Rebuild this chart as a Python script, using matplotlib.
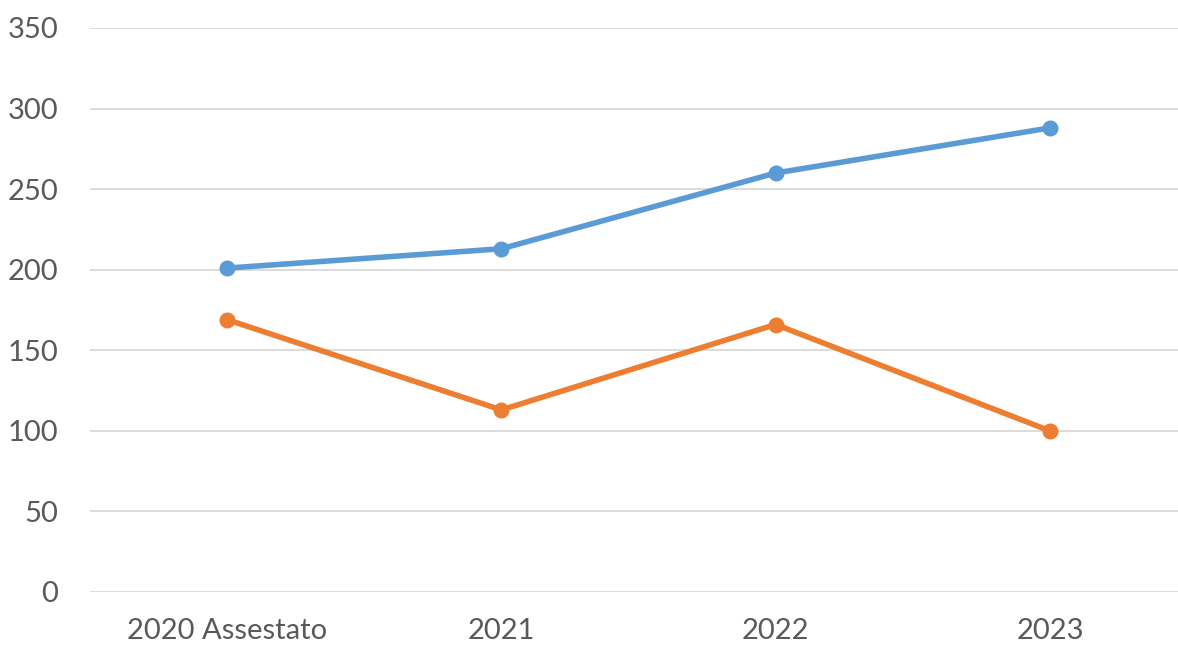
import matplotlib
matplotlib.use("Agg")
import matplotlib.pyplot as plt

categories = ["2020 Assestato", "2021", "2022", "2023"]
blue_values = [201, 213, 260, 288]
orange_values = [169, 113, 166, 100]
y_ticks = [0, 50, 100, 150, 200, 250, 300, 350]

plt.rcParams['font.family'] = ['Lato', 'DejaVu Sans']

W, H = 1178, 646
fig = plt.figure(figsize=(W/100, H/100), dpi=100)
ax = fig.add_axes([90/W, 54/H, (1187-90)/W, (592-28)/H])

x = list(range(len(categories)))
ax.plot(x, blue_values, color="#5B9BD5", lw=4, marker="o", ms=10.5, solid_capstyle="round", zorder=3)
ax.plot(x, orange_values, color="#ED7D31", lw=4, marker="o", ms=10.5, solid_capstyle="round", zorder=3)

ax.set_xlim(-0.5, len(categories) - 0.5)
ax.set_ylim(0, 350)
ax.set_yticks(y_ticks)
ax.set_xticks(x)
ax.set_xticklabels(categories)
ax.grid(axis="y", color="#D9D9D9", lw=1.3)
ax.set_axisbelow(True)
for s in ax.spines.values():
    s.set_visible(False)
ax.tick_params(axis="both", length=0, labelsize=21, labelcolor="#595959")
ax.tick_params(axis="y", pad=23)
ax.tick_params(axis="x", pad=19)
for lbl in ax.get_yticklabels():
    lbl.set_horizontalalignment("right")

fig.savefig("out.png", dpi=100)
